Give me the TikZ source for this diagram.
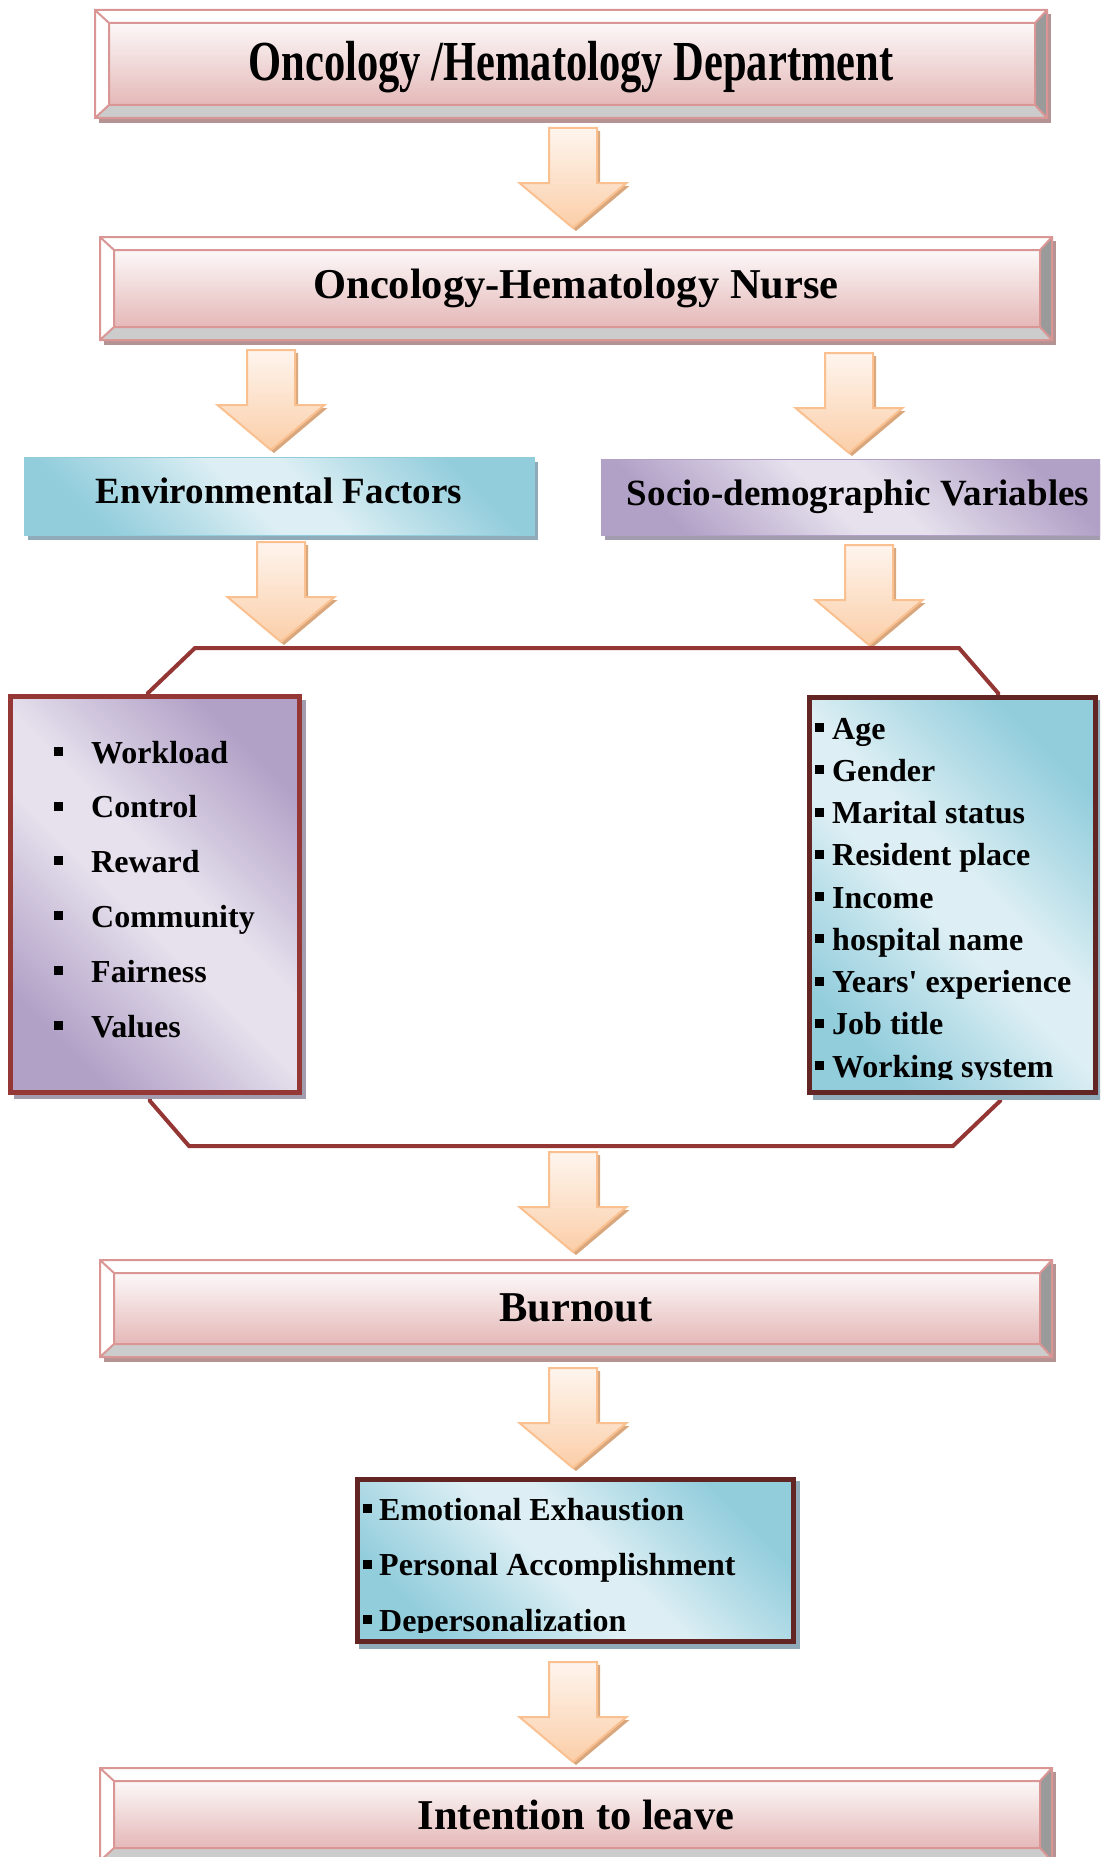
\documentclass[tikz,border=0pt]{standalone}
\usepackage{fontspec}
\setmainfont{Liberation Serif}[Ligatures=TeXOff]
\usetikzlibrary{calc}
\definecolor{pinkline}{HTML}{D99694}
\definecolor{faceT}{HTML}{FCF8F8}
\definecolor{faceB}{HTML}{E5B8B8}
\definecolor{bevgrayB}{HTML}{CCCCCC}
\definecolor{bevgrayR}{HTML}{9A9A9A}
\definecolor{bshadow}{HTML}{B59393}
\definecolor{octred}{HTML}{943634}
\definecolor{listred}{HTML}{953735}
\definecolor{darkred}{HTML}{632523}
\definecolor{blueD}{HTML}{92CDDC}
\definecolor{blueL}{HTML}{DDEFF4}
\definecolor{blueS}{HTML}{8FAAB8}
\definecolor{purpD}{HTML}{B2A1C7}
\definecolor{purpL}{HTML}{E6E1ED}
\definecolor{purpS}{HTML}{A39CAE}
\definecolor{arrline}{HTML}{FAC090}
\definecolor{arrtop}{HTML}{FEF5EE}
\definecolor{arrbot}{HTML}{FBCEA8}
\definecolor{arrshadow}{HTML}{D9A77E}
\colorlet{blueM}{blueD!50!blueL}
\colorlet{purpM}{purpD!50!purpL}
\pgfdeclarehorizontalshading{blueshade}{100bp}{color(0bp)=(blueD); color(25bp)=(blueD); color(36bp)=(blueM); color(46bp)=(blueL); color(54bp)=(blueL); color(64bp)=(blueM); color(75bp)=(blueD); color(100bp)=(blueD)}
\pgfdeclarehorizontalshading{purpshade}{100bp}{color(0bp)=(purpD); color(25bp)=(purpD); color(36bp)=(purpM); color(46bp)=(purpL); color(54bp)=(purpL); color(64bp)=(purpM); color(75bp)=(purpD); color(100bp)=(purpD)}
\newcommand\bul{\rule[7pt]{9pt}{9pt}}
\newcommand\bevelbox[4]{%
  \fill[bshadow] (#1+4,#2+4) rectangle (#3+4,#4+5);
  \fill[white] (#1,#2) rectangle (#3,#4);
  \fill[bevgrayB] (#1,#4) -- (#1+14,#4-13) -- (#3-12,#4-13) -- (#3,#4) -- cycle;
  \fill[bevgrayR] (#3,#2) -- (#3-12,#2+13) -- (#3-12,#4-13) -- (#3,#4) -- cycle;
  \shade[top color=faceT, bottom color=faceB] (#1+14,#2+13) rectangle (#3-12,#4-13);
  \draw[pinkline, line width=2] (#1,#2) rectangle (#3,#4)
     (#1+14,#2+13) rectangle (#3-12,#4-13)
     (#1,#2) -- (#1+14,#2+13) (#3,#2) -- (#3-12,#2+13)
     (#1,#4) -- (#1+14,#4-13) (#3,#4) -- (#3-12,#4-13);
}
\newcommand\blockarrow[3]{%
  \coordinate (#1) at (#2,#3);
  \fill[arrshadow] (#2-21,#3+3) -- (#2+27,#3+3) -- (#2+27,#3+58) -- (#2+56.5,#3+58)
     -- (#2+3,#3+103) -- (#2-50.5,#3+58) -- (#2-21,#3+58) -- cycle;
  \path[top color=arrtop, bottom color=arrbot, draw=arrline, line width=2, line join=miter]
     (#2-24,#3) -- (#2+24,#3) -- (#2+24,#3+55) -- (#2+53.5,#3+55)
     -- (#2,#3+100) -- (#2-53.5,#3+55) -- (#2-24,#3+55) -- cycle;
}
\tikzset{
  title/.style={font=\fontsize{42.5}{48}\selectfont\bfseries, inner sep=0pt, anchor=base},
  head/.style={font=\fontsize{37}{44}\selectfont\bfseries, inner sep=0pt, anchor=base},
  item/.style={font=\fontsize{32}{38}\selectfont\bfseries, inner sep=0pt, anchor=base west},
  bluegrad/.style={shade, shading=blueshade, shading angle=45},
  purpgrad/.style={shade, shading=purpshade, shading angle=45},
}
\begin{document}
\begin{tikzpicture}[x=1pt,y=-1pt]
\useasboundingbox (0,0) rectangle (1100,1857);
\clip (0,0) rectangle (1100,1857);

% top boxes
\bevelbox{95}{10}{1047}{118}
\node[title] (dept) at (571,81) {\scalebox{1}[1.33]{Oncology /Hematology Department}};
\blockarrow{a1}{573}{128}
\bevelbox{100}{237}{1052}{340}
\node[title] (nurse) at (576,298) {Oncology-Hematology Nurse};
\blockarrow{a2}{271}{350}
\blockarrow{a3}{849}{353}

% heading boxes
\fill[blueS] (28,462) rectangle (538,540);
\path[bluegrad, draw=blueD, line width=1] (24,457) rectangle (534,535);
\node[head] (env) at (279,503) {Environmental Factors};
\fill[purpS] (605,464) rectangle (1118,540);
\path[purpgrad, draw=purpD, line width=1] (601,459) rectangle (1114,535);
\node[head] (socio) at (858,505) {Socio-demographic Variables};
\blockarrow{a4}{281}{542}
\blockarrow{a5}{869}{545}

% octagon
\draw[octred, line width=4, line join=miter] (195,648) -- (959,648) -- (998,693) -- (1000,1101)
   -- (953,1146) -- (189,1146) -- (150,1101) -- (148,693) -- cycle;

% left list
\fill[purpS] (14,700) rectangle (306,1099);
\path[purpgrad, draw=listred, line width=5] (10.5,696.5) rectangle (299.5,1092.5);
\node[item] (w1) at (54,763) {\bul\hspace{28pt}Workload};
\node[item] (w2) at (54,817.5) {\bul\hspace{28pt}Control};
\node[item] (w3) at (54,872) {\bul\hspace{28pt}Reward};
\node[item] (w4) at (54,927) {\bul\hspace{28pt}Community};
\node[item] (w5) at (54,982) {\bul\hspace{28pt}Fairness};
\node[item] (w6) at (54,1037) {\bul\hspace{28pt}Values};

% right list
\fill[blueS] (813,700) rectangle (1102,1100);
\path[bluegrad, draw=darkred, line width=5] (809.5,697.5) rectangle (1095.5,1092.5);
\begin{scope}
\clip (800,690) rectangle (1100,1079);
\node[item] (s1) at (815,739) {\bul\hspace{8pt}Age};
\node[item] (s2) at (815,781.25) {\bul\hspace{8pt}Gender};
\node[item] (s3) at (815,823.5) {\bul\hspace{8pt}Marital status};
\node[item] (s4) at (815,865.75) {\bul\hspace{8pt}Resident place};
\node[item] (s5) at (815,908) {\bul\hspace{8pt}Income};
\node[item] (s6) at (815,950.25) {\bul\hspace{8pt}hospital name};
\node[item] (s7) at (815,992.5) {\bul\hspace{8pt}Years' experience};
\node[item] (s8) at (815,1034.75) {\bul\hspace{8pt}Job title};
\node[item] (s9) at (815,1077) {\bul\hspace{8pt}Working system};
\end{scope}

\blockarrow{a6}{573}{1152}
\bevelbox{100}{1260}{1052}{1357}
\node[title] (burnout) at (576,1321) {Burnout};
\blockarrow{a7}{573}{1368}

% burnout list
\fill[blueS] (359,1481) rectangle (800,1649);
\path[bluegrad, draw=darkred, line width=5] (357.5,1479.5) rectangle (793.5,1641.5);
\begin{scope}
\clip (350,1470) rectangle (800,1632);
\node[item] (b1) at (363,1520) {\bul\hspace{7pt}Emotional Exhaustion};
\node[item] (b2) at (363,1575.5) {\bul\hspace{7pt}Personal Accomplishment};
\node[item] (b3) at (363,1631) {\bul\hspace{7pt}Depersonalization};
\end{scope}

\blockarrow{a8}{573}{1662}
\bevelbox{100}{1768}{1052}{1861}
\node[title] (intent) at (576,1829) {Intention to leave};
\end{tikzpicture}
\end{document}
